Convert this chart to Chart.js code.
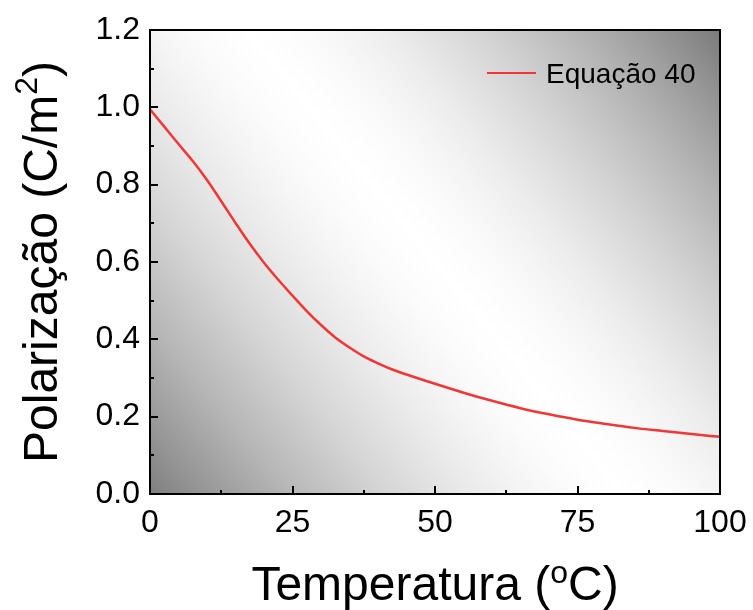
<!DOCTYPE html>
<html>
<head>
<meta charset="utf-8">
<script src="https://cdn.jsdelivr.net/npm/chart.js@4.4.0/dist/chart.umd.min.js"></script>
<style>
    html, body { margin: 0; padding: 0; background: #fff; }
    #wrap { width: 753px; height: 610px; }
</style>
</head>
<body>
<div id="wrap"><canvas id="chart" width="753" height="610"></canvas></div>
<script>
// Polarization vs temperature curve (Equação 40)
const temps = [0, 2.5, 5, 7.5, 10, 12.5, 15, 17.5, 20, 22.5, 25, 27.5, 30, 32.5, 35, 37.5, 40, 42.5, 45, 50, 55, 60, 65, 70, 75, 80, 85, 90, 95, 100];
const polarization = [0.995, 0.950, 0.905, 0.861, 0.812, 0.757, 0.701, 0.647, 0.598, 0.554, 0.513, 0.473, 0.437, 0.405, 0.379, 0.356, 0.338, 0.322, 0.309, 0.285, 0.262, 0.241, 0.222, 0.206, 0.192, 0.181, 0.171, 0.163, 0.155, 0.148];
const xTicks = [0, 25, 50, 75, 100];
const yTicks = [0.0, 0.2, 0.4, 0.6, 0.8, 1.0, 1.2];
const seriesLabel = 'Equação 40';

const FONT = "'Liberation Sans', Arial, sans-serif";
const LINE_RED = '#f23535';

// gray -> white -> gray across the diagonal, eased so the light band is wide
function bandGradient(ctx, a) {
    const g = ctx.createLinearGradient(a.left, a.bottom, a.right, a.top);
    const lo = [127, 122];
    for (let i = 0; i <= 20; i++) {
        const t = i / 20;
        const s = t <= 0.5 ? t / 0.5 : (1 - t) / 0.5;
        const f = 1 - Math.pow(1 - s, 1.6);
        const base = t <= 0.5 ? lo[0] : lo[1];
        const c = Math.round(base + (255 - base) * f);
        g.addColorStop(t, `rgb(${c},${c},${c})`);
    }
    return g;
}

// backdrop, frame, inward ticks, axis titles and legend
const decor = {
    id: 'decor',
    beforeDatasetsDraw(chart) {
        const { ctx, chartArea: a } = chart;
        ctx.save();
        ctx.fillStyle = bandGradient(ctx, a);
        ctx.fillRect(a.left, a.top, a.right - a.left, a.bottom - a.top);
        ctx.restore();
    },
    afterDraw(chart) {
        const { ctx, chartArea: a, scales } = chart;
        const x = scales.x, y = scales.y;
        ctx.save();
        ctx.strokeStyle = '#000';
        ctx.lineWidth = 2;
        ctx.strokeRect(a.left, a.top, a.right - a.left, a.bottom - a.top);

        ctx.beginPath();
        for (let v = 0; v <= 100.001; v += 12.5) {
            const px = Math.round(x.getPixelForValue(v));
            const len = (v % 25 === 0) ? 8 : 4;
            ctx.moveTo(px, a.bottom);
            ctx.lineTo(px, a.bottom - len);
        }
        for (let i = 0; i <= 12; i++) {
            const py = Math.round(y.getPixelForValue(i / 10));
            const len = (i % 2 === 0) ? 8 : 4;
            ctx.moveTo(a.left, py);
            ctx.lineTo(a.left + len, py);
        }
        ctx.stroke();

        ctx.fillStyle = '#000';
        ctx.textBaseline = 'alphabetic';
        ctx.textAlign = 'left';
        const big = '48px ' + FONT, sup = '32px ' + FONT;

        // x title: Temperatura (ºC)
        const xa = 'Temperatura (', xc = 'C)';
        ctx.font = big; const w1 = ctx.measureText(xa).width, w3 = ctx.measureText(xc).width;
        ctx.font = sup; const w2 = ctx.measureText('o').width;
        const sx = (a.left + a.right) / 2 - (w1 + w2 + w3) / 2;
        const by = 600;
        ctx.font = big; ctx.fillText(xa, sx, by);
        ctx.font = sup; ctx.fillText('o', sx + w1, by - 17);
        ctx.font = big; ctx.fillText(xc, sx + w1 + w2, by);

        // y title: Polarização (C/m²), rotated
        ctx.save();
        ctx.translate(57, (a.top + a.bottom) / 2);
        ctx.rotate(-Math.PI / 2);
        const ya = 'Polarização (C/m', yc = ')';
        ctx.font = big; const v1 = ctx.measureText(ya).width, v3 = ctx.measureText(yc).width;
        ctx.font = sup; const v2 = ctx.measureText('2').width;
        const sy = -(v1 + v2 + v3) / 2;
        ctx.font = big; ctx.fillText(ya, sy, 0);
        ctx.font = sup; ctx.fillText('2', sy + v1, -20);
        ctx.font = big; ctx.fillText(yc, sy + v1 + v2, 0);
        ctx.restore();

        // legend
        ctx.strokeStyle = LINE_RED;
        ctx.lineWidth = 2;
        ctx.beginPath();
        ctx.moveTo(487, 73);
        ctx.lineTo(536, 73);
        ctx.stroke();
        ctx.font = '28px ' + FONT;
        ctx.fillText(seriesLabel, 546, 83);
        ctx.restore();
    }
};

new Chart(document.getElementById('chart'), {
    type: 'line',
    data: {
        datasets: [{
            label: seriesLabel,
            data: temps.map((t, i) => ({ x: t, y: polarization[i] })),
            borderColor: LINE_RED,
            borderWidth: 2.5,
            pointRadius: 0,
            fill: false,
            cubicInterpolationMode: 'monotone'
        }]
    },
    options: {
        responsive: false,
        animation: false,
        layout: { padding: { top: 30, right: 33, left: 0, bottom: 0 } },
        plugins: { legend: { display: false }, tooltip: { enabled: false } },
        scales: {
            x: {
                type: 'linear',
                min: 0, max: 100,
                afterFit(s) { s.height = 116; s.paddingLeft = 0; s.paddingRight = 0; },
                afterBuildTicks(s) { s.ticks = xTicks.map(v => ({ value: v })); },
                grid: { display: false, drawTicks: false },
                border: { display: false },
                ticks: { color: '#000', padding: 10, maxRotation: 0, font: { family: FONT, size: 32 } }
            },
            y: {
                min: 0, max: 1.2,
                afterFit(s) { s.width = 150; s.paddingTop = 0; s.paddingBottom = 0; },
                afterBuildTicks(s) { s.ticks = yTicks.map(v => ({ value: v })); },
                grid: { display: false, drawTicks: false },
                border: { display: false },
                ticks: { color: '#000', padding: 10, font: { family: FONT, size: 32 },
                    callback: v => v.toFixed(1) }
            }
        }
    },
    plugins: [decor]
});
</script>
</body>
</html>
